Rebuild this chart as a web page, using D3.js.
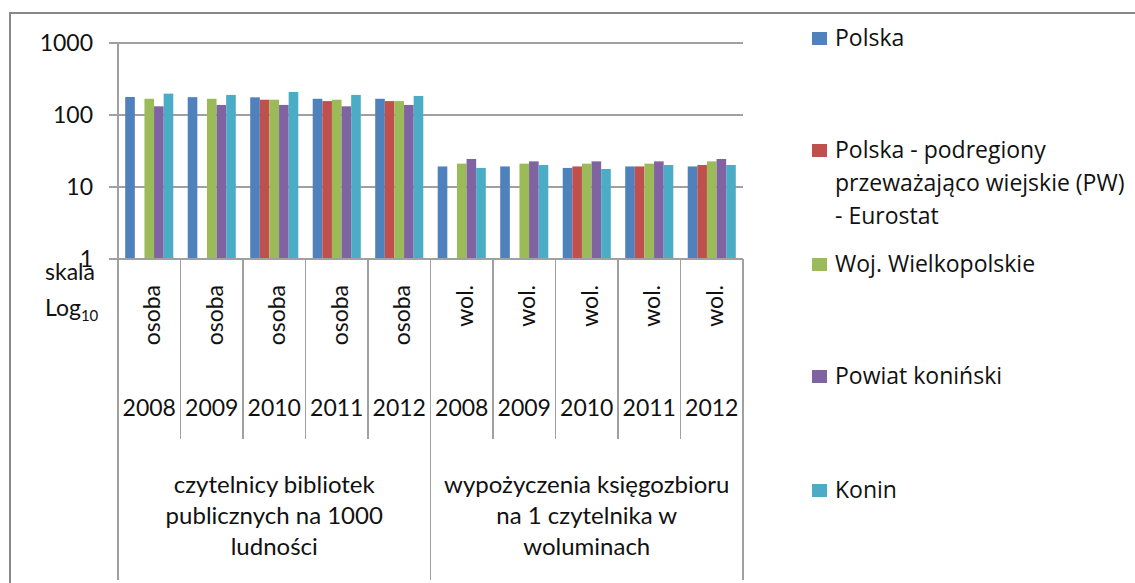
<!DOCTYPE html>
<head>
  <meta charset="utf-8">
  <script src="https://d3js.org/d3.v7.min.js"></script>
  <style>
    body { margin:0; background:#fff; }
    .lbl { font-family: Lato, "Liberation Sans", sans-serif; fill:#111; }
    .leg { font-family: "Open Sans", sans-serif; font-size:23px; fill:#111; }
    .grid, .sep { stroke:#a0a0a0; stroke-width:1.5; shape-rendering:crispEdges; }
  </style>
</head>

<body>
  <script>
    // data (log scale)
    var years = ['2008','2009','2010','2011','2012','2008','2009','2010','2011','2012'];
    var units = ['osoba','osoba','osoba','osoba','osoba','wol.','wol.','wol.','wol.','wol.'];
    var groups = [
      ['czytelnicy bibliotek', 'publicznych na 1000', 'ludności'],
      ['wypożyczenia księgozbioru', 'na 1 czytelnika w', 'woluminach']
    ];
    var seriesNames = [
      ['Polska'],
      ['Polska - podregiony', 'przeważająco wiejskie (PW)', '- Eurostat'],
      ['Woj. Wielkopolskie'],
      ['Powiat koniński'],
      ['Konin']
    ];
    var colors = ['#4f81bd', '#c0504d', '#9bbb59', '#8064a2', '#4bacc6'];

    var polska = [178, 177, 176, 168, 168, 19.3, 19.3, 18.4, 19.3, 19.3];
    var pw     = [null, null, 163, 156, 156, null, null, 19.3, 19.3, 20.2];
    var wlkp   = [168, 168, 163, 163, 156, 21.1, 21.1, 21.1, 21.1, 22.7];
    var powiat = [132, 138, 138, 132, 138, 24.5, 22.7, 22.7, 22.7, 24.5];
    var konin  = [198, 190, 209, 190, 184, 18.4, 20.2, 17.8, 20.2, 20.2];
    var series = [polska, pw, wlkp, powiat, konin];
    var yTicks = [1, 10, 100, 1000];

    var width = 1135, height = 583;
    var pLeft = 118, pRight = 743, pTop = 43, pBase = 259;

    var svg = d3.select('body').append('svg')
      .attr('width', width)
      .attr('height', height);

    // outer chart border (only top and left visible)
    svg.append('path')
      .attr('d', 'M10,' + (height + 5) + 'V13H' + (width + 5))
      .attr('fill', 'none')
      .attr('stroke', '#888')
      .attr('stroke-width', 2);

    var y = d3.scaleLog().domain([1, 1000]).range([pBase, pTop]);
    var x = d3.scaleBand().domain(d3.range(years.length)).range([pLeft, pRight]);
    var xs = d3.scaleBand().domain(d3.range(series.length))
      .range([0, x.bandwidth()]).paddingOuter(0.75);

    // gridlines + ticks
    svg.selectAll('.grid').data(yTicks).enter().append('line')
      .attr('class', 'grid')
      .attr('x1', pLeft - 9).attr('x2', pRight)
      .attr('y1', function(d) { return y(d); })
      .attr('y2', function(d) { return y(d); });

    svg.selectAll('.ytick').data(yTicks).enter().append('text')
      .attr('class', 'lbl')
      .attr('x', 93)
      .attr('y', function(d) { return y(d) + 8; })
      .attr('text-anchor', 'end')
      .style('font-size', '23px')
      .text(function(d) { return d; });

    // bars
    series.forEach(function(vals, s) {
      svg.append('g').selectAll('rect')
        .data(vals.map(function(v, i) { return { v: v, i: i }; })
          .filter(function(d) { return d.v != null; }))
        .enter().append('rect')
        .attr('x', function(d) { return x(d.i) + xs(s); })
        .attr('width', xs.bandwidth())
        .attr('y', function(d) { return y(d.v); })
        .attr('height', function(d) { return pBase - y(d.v); })
        .attr('fill', colors[s]);
    });

    // category axis
    svg.append('line').attr('class', 'sep')
      .attr('x1', pLeft).attr('x2', pRight).attr('y1', pBase).attr('y2', pBase);
    svg.append('line').attr('class', 'sep')
      .attr('x1', pLeft).attr('x2', pLeft).attr('y1', pTop).attr('y2', pBase);

    d3.range(years.length + 1).forEach(function(i) {
      var xx = i < years.length ? x(i) : pRight;
      var outer = (i % 5 === 0);
      svg.append('line').attr('class', 'sep')
        .attr('x1', xx).attr('x2', xx)
        .attr('y1', pBase).attr('y2', outer ? 580 : 439);
    });

    years.forEach(function(yr, i) {
      var cx = x(i) + x.bandwidth() / 2;
      svg.append('text').attr('class', 'lbl')
        .attr('transform', 'translate(' + (cx + 3) + ',285) rotate(-90)')
        .attr('text-anchor', 'end')
        .attr('dy', '0.35em')
        .style('font-size', '23px')
        .text(units[i]);
      svg.append('text').attr('class', 'lbl')
        .attr('x', cx).attr('y', 416)
        .attr('text-anchor', 'middle')
        .style('font-size', '23px')
        .text(yr);
    });

    groups.forEach(function(lines, g) {
      var cx = x(g * 5) + x.bandwidth() * 2.5;
      lines.forEach(function(t, k) {
        svg.append('text').attr('class', 'lbl')
          .attr('x', cx).attr('y', 493 + k * 31)
          .attr('text-anchor', 'middle')
          .style('font-size', '24px')
          .text(t);
      });
    });

    // axis note
    svg.append('text').attr('class', 'lbl')
      .attr('x', 45).attr('y', 280)
      .style('font-size', '23px')
      .text('skala');
    var logTxt = svg.append('text').attr('class', 'lbl')
      .attr('x', 45).attr('y', 316)
      .style('font-size', '23px');
    logTxt.append('tspan').text('Log');
    logTxt.append('tspan').attr('dy', 5).style('font-size', '15px').text('10');

    // legend
    var legY = [46, 158, 272, 384, 498];
    seriesNames.forEach(function(lines, s) {
      svg.append('rect')
        .attr('x', 812).attr('y', legY[s] - 14)
        .attr('width', 15).attr('height', 13)
        .attr('fill', colors[s]);
      lines.forEach(function(t, k) {
        svg.append('text').attr('class', 'leg')
          .attr('x', 835).attr('y', legY[s] + k * 33)
          .text(t);
      });
    });
  </script>
</body>
